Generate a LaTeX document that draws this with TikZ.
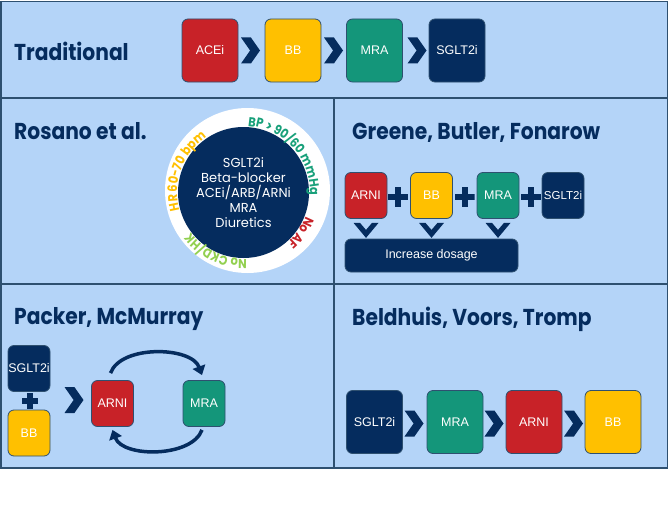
\documentclass[tikz,border=0pt]{standalone}
\usepackage{fontspec}
\setmainfont{Liberation Sans}
\newfontfamily\gothic{Poppins}
\newfontfamily\gothicnarrow{Poppins}[FakeStretch=0.88]
\usetikzlibrary{positioning,shapes.symbols,arrows.meta,decorations.text}

\definecolor{panelbg}{RGB}{180,212,248}
\definecolor{panelline}{RGB}{46,80,112}
\definecolor{navy}{RGB}{5,44,94}
\definecolor{drugred}{RGB}{200,34,40}
\definecolor{drugyellow}{RGB}{255,192,0}
\definecolor{druggreen}{RGB}{20,150,122}
\definecolor{bpgreen}{RGB}{24,160,122}
\definecolor{kidneygreen}{RGB}{146,208,80}

\begin{document}
\begin{tikzpicture}[
			x=1pt, y=1pt,
			title/.style={anchor=base west, inner sep=0pt, text=navy, font=\gothicnarrow\bfseries\fontsize{23}{26}\selectfont},
			drug/.style={draw=panelline, line width=0.8pt, rounded corners=6pt, text=white, inner sep=0pt, font=\fontsize{12.5}{14}\selectfont},
			bigdrug/.style={drug, minimum width=56pt, minimum height=63pt},
			smalldrug/.style={drug, minimum width=42pt, minimum height=46pt},
			chevron/.style={signal, signal to=east, signal from=west, signal pointer angle=110, fill=navy, minimum width=19pt, minimum height=26pt, inner sep=0pt},
			plussign/.style={minimum size=20pt, inner sep=0pt, path picture={
						\fill[navy] ([xshift=-3pt]path picture bounding box.north) rectangle ([xshift=3pt]path picture bounding box.south);
						\fill[navy] ([yshift=-3pt]path picture bounding box.west) rectangle ([yshift=3pt]path picture bounding box.east);
					}},
			cyclearrow/.style={navy, line width=3.5pt, -{Triangle[length=9pt, width=13pt]}},
		]

		\def \ringr {66.5}
		\def \ringfont {\gothicnarrow\bfseries\fontsize{13}{15}\selectfont}

		\useasboundingbox (0,0) rectangle (669,-511);

		\draw[panelline, line width=1.8pt, fill=panelbg] (1,-1.5) rectangle (667.5,-468);
		\draw[panelline, line width=1.8pt] (1,-98) -- (667.5,-98);
		\draw[panelline, line width=1.8pt] (1,-284) -- (667.5,-284);
		\draw[panelline, line width=1.8pt] (334,-98) -- (334,-468);

		\node[title] (trad) at (14,-60) {Traditional};
		\node[title] (rosano) at (14,-139) {Rosano et al.};
		\node[title] (greene) at (352,-139) {Greene, Butler, Fonarow};
		\node[title] (packer) at (14,-324) {Packer, McMurray};
		\node[title] (beld) at (352,-325) {Beldhuis, Voors, Tromp};

		\foreach \name/\lbl/\col/\xx in {acei/ACEi/drugred/210, bb/BB/drugyellow/293, mra/MRA/druggreen/374.5, sglt/SGLT2i/navy/457} {
				\node[bigdrug, fill=\col] (t-\name) at (\xx,-50.5) {\lbl};
			}
		\foreach \xx [count=\i] in {250.5, 333.5, 417} {
				\node[chevron] (tc-\i) at (\xx,-50.5) {};
			}

		\node[circle, fill=white, minimum size=165pt, inner sep=0pt] (ring) at (247.5,-190.5) {};
		\node[circle, fill=navy, minimum size=131pt, inner sep=0pt] (core) at (243.5,-192.5) {};
		\node[text=white, align=center, font=\gothic\fontsize{13}{15}\selectfont] (meds) at (core) {SGLT2i\\Beta-blocker\\ACEi/ARB/ARNi\\MRA\\Diuretics};

		\path[decorate, decoration={text along path, text align=center, text color=drugyellow,
						text={|\ringfont|HR 60-70 bpm}}]
			(core.center) ++(212:\ringr) arc[start angle=212, end angle=107, radius=\ringr];
		\path[decorate, decoration={text along path, text align=center, text color=bpgreen,
						text={|\ringfont|BP > 90/60 mmHg}}]
			(core.center) ++(108:\ringr) arc[start angle=108, end angle=-24, radius=\ringr];
		\path[decorate, decoration={text along path, text align=center, text color=drugred,
						text={|\ringfont|No AF}}]
			(core.center) ++(-7:\ringr) arc[start angle=-7, end angle=-63, radius=\ringr];
		\path[decorate, decoration={text along path, text align=center, text color=kidneygreen,
						text={|\ringfont|No CKD/HK}}]
			(core.center) ++(-59:\ringr) arc[start angle=-59, end angle=-171, radius=\ringr];

		\foreach \name/\lbl/\col/\xx in {arni/ARNI/drugred/366, bb/BB/drugyellow/431.5, mra/MRA/druggreen/498} {
				\node[smalldrug, fill=\col] (g-\name) at (\xx,-195.5) {\lbl};
			}
		\node[smalldrug, fill=navy, font=\fontsize{11.5}{13}\selectfont] (g-sglt) at (563,-195.5) {SGLT2i};
		\foreach \xx [count=\i] in {398, 464.5, 531} {
				\node[plussign] (gp-\i) at (\xx,-197) {};
			}
		\foreach \name in {arni, bb, mra} {
				\coordinate (gd-\name) at ([yshift=-4pt]g-\name.south);
				\fill[navy, shift={(gd-\name)}] (-12.5,0) -- (-6,0) -- (0,-7) -- (6,0) -- (12.5,0) -- (0,-15) -- cycle;
			}
		\node[drug, fill=navy, minimum width=173pt, minimum height=33pt] (dose) at (431.5,-255.5) {Increase dosage};

		\node[smalldrug, fill=navy] (p-sglt) at (29,-368.5) {SGLT2i};
		\node[plussign, minimum size=16pt] (p-plus) at (30,-400.5) {};
		\node[smalldrug, fill=drugyellow] (p-bb) at (29,-433) {BB};
		\node[chevron] (p-chev) at (74,-400) {};
		\node[smalldrug, fill=drugred] (p-arni) at (112.5,-403.5) {ARNI};
		\node[smalldrug, fill=druggreen] (p-mra) at (204,-403.5) {MRA};
		\draw[cyclearrow] ([xshift=-2pt, yshift=7pt]p-arni.north) to[out=70, in=110, looseness=0.85] ([xshift=-2pt, yshift=5pt]p-mra.north);
		\draw[cyclearrow] ([xshift=-2pt, yshift=-3pt]p-mra.south) to[out=-110, in=-70, looseness=0.85] ([yshift=-3pt]p-arni.south);

		\foreach \name/\lbl/\col/\xx in {sglt/SGLT2i/navy/374.5, mra/MRA/druggreen/455, arni/ARNI/drugred/534, bb/BB/drugyellow/613} {
				\node[bigdrug, fill=\col] (b-\name) at (\xx,-422) {\lbl};
			}
		\foreach \xx [count=\i] in {414, 494, 573.5} {
				\node[chevron] (bc-\i) at (\xx,-423.5) {};
			}

	\end{tikzpicture}
\end{document}
